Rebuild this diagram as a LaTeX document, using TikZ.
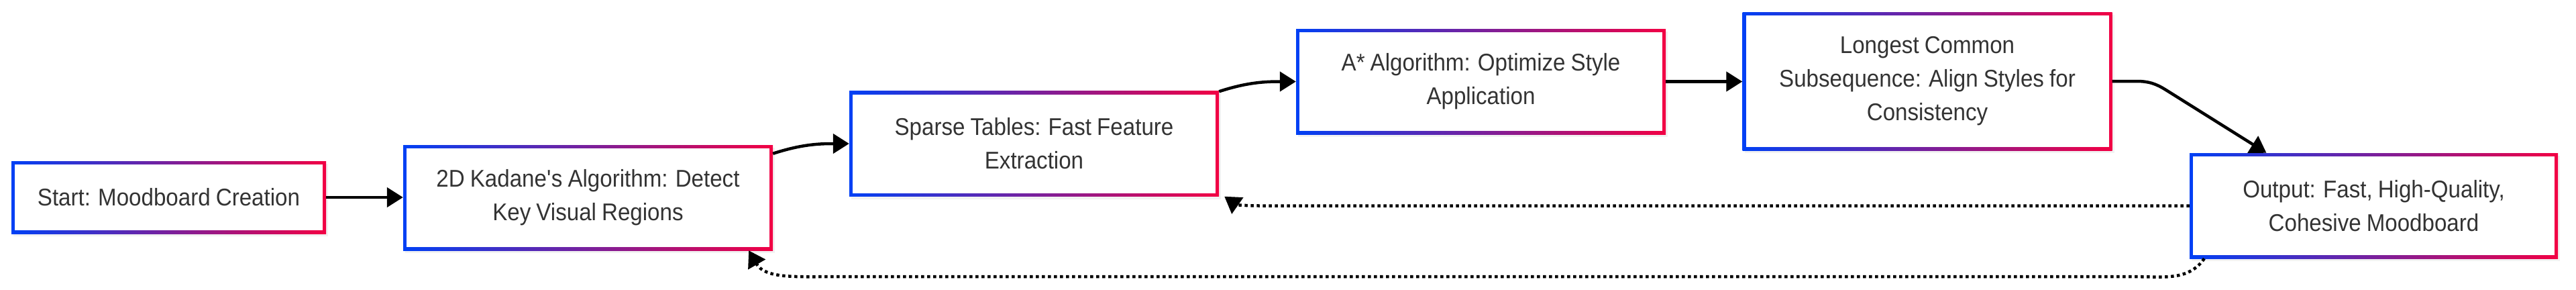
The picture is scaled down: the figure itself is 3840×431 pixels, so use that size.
\documentclass[tikz,border=0pt]{standalone}
\usepackage{fontspec}
\setmainfont{Liberation Sans}[FakeStretch=0.92, WordSpace=0.88]
\usetikzlibrary{arrows.meta,shadows}
\definecolor{gblue}{HTML}{0040F5}
\definecolor{gred}{HTML}{F20044}
\definecolor{txt}{HTML}{333333}
\tikzset{
  box/.style={rectangle, inner sep=0pt, minimum height=157pt, text=txt, align=center,
    font=\fontsize{36}{50}\selectfont, fill=white,
    drop shadow={opacity=0.10, shadow xshift=3pt, shadow yshift=-4pt},
    path picture={
      \shade[left color=gblue,right color=gred] (path picture bounding box.south west) rectangle (path picture bounding box.north east);
      \fill[white] ([shift={(5pt,5pt)}]path picture bounding box.south west) rectangle ([shift={(-5pt,-5pt)}]path picture bounding box.north east);
    }},
  arr/.style={line width=4.5pt, -{Triangle[length=24pt,width=29pt]}},
  dotarr/.style={arr, dash pattern=on 4.5pt off 4.5pt},
}
\begin{document}
\begin{tikzpicture}[x=1pt,y=-1pt]
\useasboundingbox (0,0) rectangle (3840,431);
\node[box, minimum width=469pt, minimum height=108pt] (n1) at (251.5,294) {Start: Moodboard Creation};
\node[box, minimum width=551pt] (n2) at (876.5,294.5) {2D Kadane\textquotesingle s Algorithm: Detect\\Key Visual Regions};
\node[box, minimum width=551pt] (n3) at (1541.5,214) {Sparse Tables: Fast Feature\\Extraction};
\node[box, minimum width=551pt] (n4) at (2207.5,121.5) {A* Algorithm: Optimize Style\\Application};
\node[box, minimum width=551pt, minimum height=206pt] (n5) at (2873,121) {Longest Common\\Subsequence: Align Styles for\\Consistency};
\node[box, minimum width=549pt] (n6) at (3538.5,306.5) {Output: Fast, High-Quality,\\Cohesive Moodboard};

\draw[arr] (n1.east) -- (n1.east -| n2.west);
\draw[arr] ([yshift=-13pt]n2.north east) to[out=18,in=180] (n3.west);
\draw[arr] ([yshift=-1pt]n3.north east) to[out=18,in=180] (n4.west);
\draw[arr] (n4.east) -- (n4.east -| n5.west);
\draw[arr] (n5.east) -- ++(36,0) to[out=0,in=148] ++(44,13) -- ([xshift=-160pt]n6.north);
\draw[dotarr] (n6.west) -- ++(-1387,0) to[out=180,in=-35] ([xshift=8pt]n3.south east);
\draw[dotarr] ([xshift=22pt]n6.south west) to[out=-125,in=0] ++(-100,27) -- ++(-1954,0) to[out=180,in=-60] ([xshift=-36pt]n2.south east);
\end{tikzpicture}
\end{document}
